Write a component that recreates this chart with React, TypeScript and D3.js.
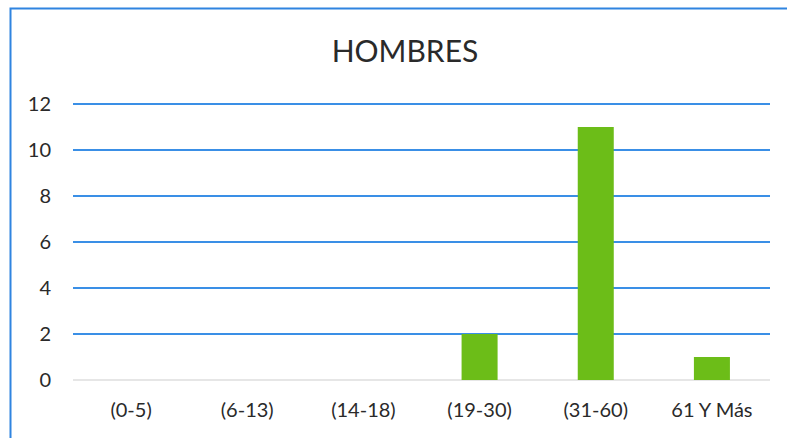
import React from "react";
import * as d3 from "d3";

const categories = ["(0-5)", "(6-13)", "(14-18)", "(19-30)", "(31-60)", "61 Y Más"];
const values = [0, 0, 0, 2, 11, 1];
const yTicks = [0, 2, 4, 6, 8, 10, 12];

export default function App() {
  const width = 787;
  const height = 438;
  const margin = { top: 104, right: 17, bottom: 58, left: 73 };
  const w = width - margin.left - margin.right;
  const h = height - margin.top - margin.bottom;

  const x = d3.scaleBand<string>().domain(categories).range([0, w]).paddingInner(0.69).paddingOuter(0.345);
  const y = d3.scaleLinear().domain([0, 12]).range([h, 0]);

  const font = "Lato, 'Open Sans', sans-serif";

  return (
    <svg
      width={width}
      height={height}
      style={{ position: "absolute", left: 0, top: 0, background: "#fff" }}
    >
      <rect x={10.5} y={8.5} width={790} height={440} fill="none" stroke="#2f84e0" strokeWidth={2} />
      <text x={405} y={62} textAnchor="middle" fontFamily={font} fontSize={30} fill="#2a2a2a">
        HOMBRES
      </text>
      <g transform={`translate(${margin.left},${margin.top})`}>
        {yTicks.map((t) => (
          <g key={t}>
            <line
              x1={0}
              x2={w}
              y1={y(t)}
              y2={y(t)}
              stroke={t === 0 ? "#e6e6e6" : "#3a8fe6"}
              strokeWidth={2}
            />
            <text
              x={-22}
              y={y(t)}
              dy="0.35em"
              textAnchor="end"
              fontFamily={font}
              fontSize={20}
              fill="#2a2a2a"
            >
              {t}
            </text>
          </g>
        ))}
        {categories.map((c, i) =>
          values[i] > 0 ? (
            <rect
              key={c}
              x={x(c)}
              y={y(values[i])}
              width={x.bandwidth()}
              height={h - y(values[i])}
              fill="#6cbd18"
            />
          ) : null
        )}
        {categories.map((c) => (
          <text
            key={c}
            x={(x(c) ?? 0) + x.bandwidth() / 2}
            y={h + 37}
            textAnchor="middle"
            fontFamily={font}
            fontSize={20}
            fill="#2a2a2a"
          >
            {c}
          </text>
        ))}
      </g>
    </svg>
  );
}
